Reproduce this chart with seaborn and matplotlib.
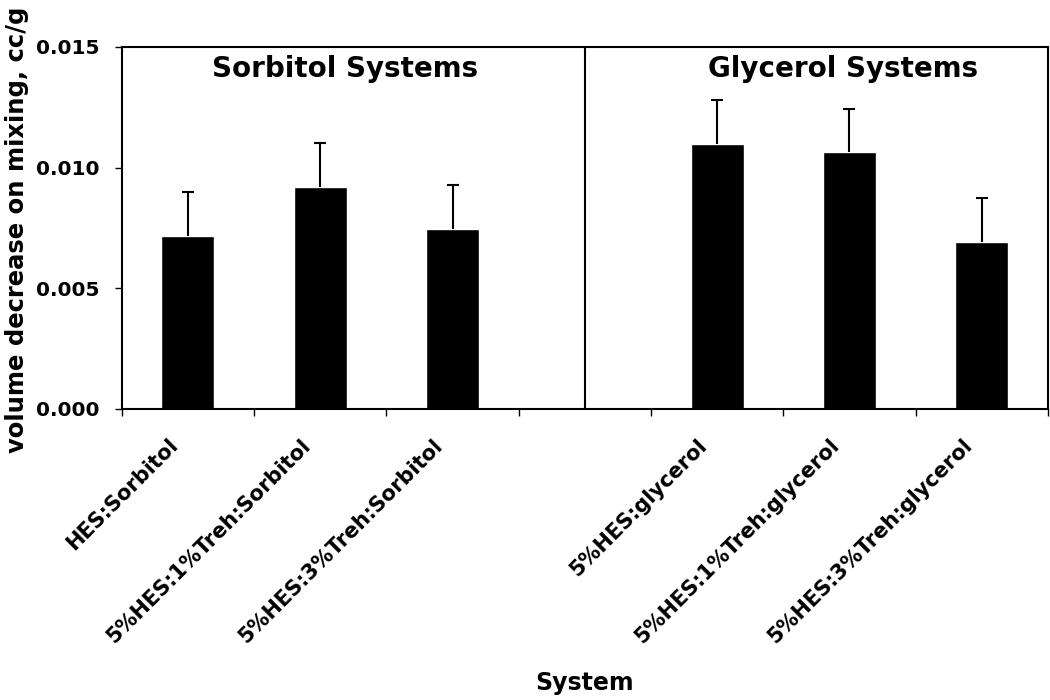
import numpy as np
import pandas as pd
import matplotlib
matplotlib.use("Agg")
import matplotlib.pyplot as plt
import matplotlib.transforms as mtransforms
import seaborn as sns

# data
systems = ["HES:Sorbitol", "5%HES:1%Treh:Sorbitol", "5%HES:3%Treh:Sorbitol", "",
           "5%HES:glycerol", "5%HES:1%Treh:glycerol", "5%HES:3%Treh:glycerol"]
volume = [0.00717, 0.00920, 0.00746, np.nan, 0.01099, 0.01064, 0.00692]
stdev = [0.00182, 0.00182, 0.00182, np.nan, 0.00180, 0.00180, 0.00182]
groups = ["Sorbitol Systems", "Glycerol Systems"]
group_x = [1.19, 4.95]

sns.set_style("white")
plt.rcParams['font.family'] = ['DejaVu Sans']
plt.rcParams['font.weight'] = 'bold'
for k in ['text.color', 'axes.labelcolor', 'xtick.color', 'ytick.color']:
    plt.rcParams[k] = 'black'

df = pd.DataFrame({"System": systems, "vol": volume, "sd": stdev})
ok = df.dropna()

fig = plt.figure(figsize=(10.5, 7), dpi=100)
ax = fig.add_axes([0.116, 0.416, 0.882, 0.517])

sns.barplot(data=ok, x="System", y="vol", order=systems, color="black",
            width=0.4, errorbar=None, saturation=1, ax=ax)
xpos = [systems.index(s) for s in ok["System"]]
eb = ax.errorbar(xpos, ok["vol"], yerr=[np.zeros(len(ok)), ok["sd"]], fmt="none",
                 ecolor="black", elinewidth=1.5, capsize=4, capthick=1.5)
eb[1][0].set_visible(False)  # only the upper cap

# divider between the two groups
ax.axvline(3, color="black", lw=1.5)
for g, gx in zip(groups, group_x):
    ax.text(gx, 0.0141, g, ha="center", va="center", fontsize=20, fontweight="bold")

ax.set_xlim(-0.5, 6.5)
ax.set_ylim(0, 0.015)
ax.set_yticks([0, 0.005, 0.010, 0.015])
ax.set_yticklabels(["0.000", "0.005", "0.010", "0.015"], fontsize=14.5, fontweight="bold")
ax.set_xticks(range(7))
ax.set_xticklabels(systems, rotation=45, ha="right", va="center", rotation_mode="anchor",
                   fontsize=15, fontweight="bold")
ax.set_xticks(np.arange(-0.5, 7, 1), minor=True)
ax.tick_params(axis="x", which="major", length=0, pad=24)
ax.tick_params(axis="x", which="minor", length=5, width=1, color="black", bottom=True)
ax.tick_params(axis="y", length=5, width=1, color="black", left=True, pad=11)
# nudge the slanted labels a little left (after tick_params, which resets transforms)
shift = mtransforms.ScaledTranslation(-0.13, 0, fig.dpi_scale_trans)
for lab in ax.get_xticklabels():
    lab.set_transform(lab.get_transform() + shift)
for sp in ax.spines.values():
    sp.set_color("black")
    sp.set_linewidth(1.5)

ax.set_xlabel("System", fontsize=17, fontweight="bold")
ax.xaxis.set_label_coords(0.5, -0.725)
ax.set_ylabel("volume decrease on mixing, cc/g", fontsize=17.5, fontweight="bold")
ax.yaxis.set_label_coords(-0.100, 0.494)

fig.savefig("out.png", dpi=100)
